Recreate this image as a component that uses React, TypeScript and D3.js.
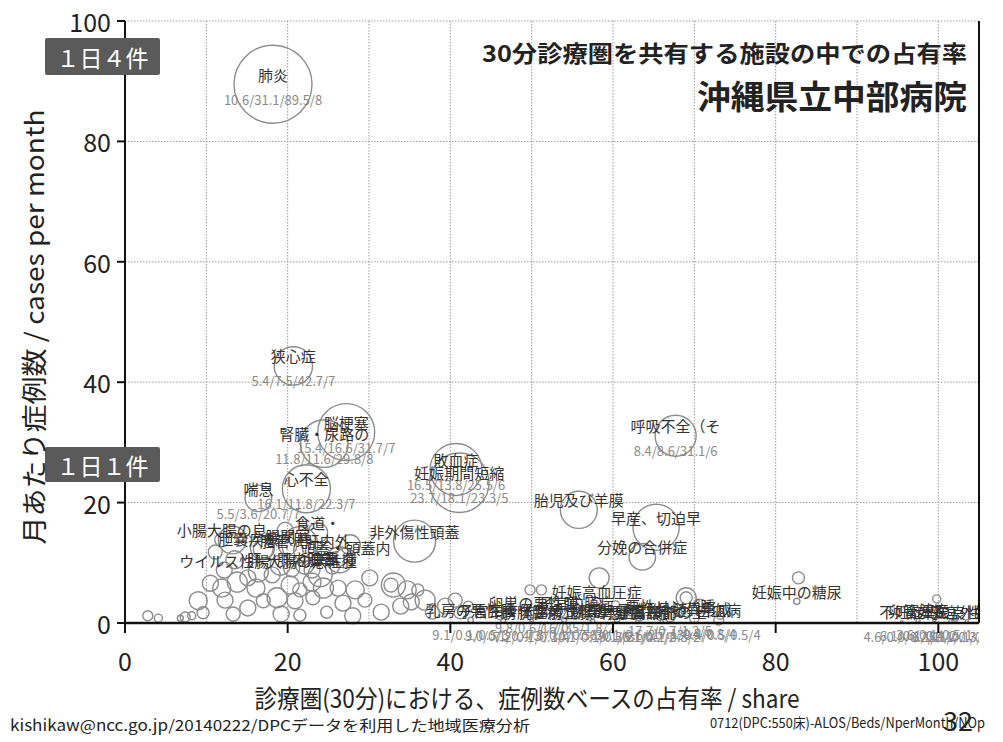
import React from 'react';
import * as d3 from 'd3';

// ---------- data ----------
const xTicks = [0, 20, 40, 60, 80, 100];
const yTicks = [0, 20, 40, 60, 80, 100];
const xGrid = [10, 20, 30, 40, 50, 60, 70, 80, 90, 100];
const yGrid = [20, 40, 60, 80, 100];

// labelled bubbles: share (%), cases per month, beds, ALOS (null = numbers hidden), NOp
const labelNames = [
  '肺炎', '狭心症', '脳梗塞', '腎臓・尿路の', '心不全', '喘息', '敗血症', '妊娠期間短縮', '呼吸不全（そ',
  '胎児及び羊膜', '早産、切迫早', '分娩の合併症', '非外傷性頭蓋', '妊娠中の糖尿', '妊娠高血圧症',
  '小腸大腸の良', '食道・', '胆嚢疾患（胆', '腸閉塞', '胆管（肝内外', '頭蓋・頭蓋内', 'ウイルス性腸',
  '肝・肝内胆管', '大腸の悪性腫', '虫垂炎',
  '乳房の悪性腫', '子宮頸・体部', '膀胱腫瘍', '卵巣の悪性腫', '子宮内膜症', '子宮の良性腫', '前立腺の悪性',
  '卵巣・子宮附', '骨盤臓器脱', '悪性リンパ腫', '骨髄異形成', '白血病', '子宮頸部の上',
  '不妊症', '卵管妊娠', '流産', '卵巣の良性腫', '子宮外妊娠',
];
const labelShare = [
  18.2, 20.7, 27.2, 24.5, 22.3, 16.4, 40.7, 41.1, 67.7,
  55.8, 65.3, 63.6, 35.6, 82.6, 58.0,
  11.9, 23.7, 17.0, 20.0, 22.1, 27.1, 12.2,
  20.5, 23.0, 25.5,
  42.5, 46.5, 50.0, 50.2, 55.5, 54.0, 57.5,
  60.5, 63.0, 67.0, 70.0, 73.0, 66.0,
  95.5, 97.5, 99.5, 101.5, 103.5,
];
const labelCases = [
  89.5, 42.7, 31.7, 29.8, 22.3, 20.7, 25.5, 23.3, 31.1,
  18.8, 15.9, 11.0, 13.6, 3.6, 3.5,
  13.8, 15.0, 12.3, 12.8, 12.1, 10.8, 8.8,
  9.0, 8.8, 9.3,
  0.5, 0.4, 0.3, 1.7, 1.8, 0.5, 0.3,
  0.6, 0.2, 1.2, 0.8, 0.5, 0.3,
  0.2, 0.4, 0.5, 0.3, 0.3,
];
const labelBeds = [
  31.1, 7.5, 16.6, 11.6, 11.8, 3.6, 13.8, 18.1, 8.6,
  7.0, 10.9, 3.6, 9.0, 0.2, 0.3,
  1.0, 2.0, 2.0, 1.7, 2.5, 2.0, 1.3,
  1.3, 1.3, 1.0,
  0.15, 0.12, 0.07, 0.55, 0.45, 0.12, 0.1,
  0.15, 0.06, 0.7, 0.45, 0.5, 0.05,
  0.03, 0.08, 0.06, 0.06, 0.05,
];
const labelAlos: (number | null)[] = [
  10.6, 5.4, 15.4, 11.8, 16.1, 5.5, 16.5, 23.7, 8.4,
  null, null, null, null, null, null,
  null, null, null, null, null, null, null,
  null, null, null,
  9.1, 9.0, 7.2, 9.8, 7.6, 7.3, 10.1,
  7.6, 9.1, 17.7, 17.1, 30.4, 5.1,
  4.6, 6.1, 3.6, 6.1, 5.1,
];
const labelNop = [
  8, 7, 7, 8, 7, 7, 6, 5, 6,
  0, 0, 0, 0, 0, 0,
  0, 0, 0, 0, 0, 0, 0,
  0, 0, 0,
  3, 3, 4, 3, 2, 3, 3,
  2, 2, 5, 4, 4, 2,
  1, 2, 1, 2, 2,
];

// unlabelled bubbles
const cloudShare = [
  2.8, 4.1, 6.8, 7.4, 8.2, 9.0, 9.6, 10.5, 11.9, 12.3, 13.8, 13.3, 15.1, 16.1, 17.0, 18.1, 18.7, 19.2,
  20.9, 21.5, 23.0, 23.1, 24.4, 24.8, 26.2, 26.8, 28.0, 29.5, 30.1, 31.5, 33.0, 32.7, 33.9, 35.2, 36.9,
  37.8, 36.0, 39.4, 40.6, 41.2, 42.2, 43.7, 46.1, 47.4, 34.7,
  13.2, 16.9, 21.5, 26.4, 16.4, 19.1, 24.0, 22.1, 13.5, 15.1, 27.7, 19.7, 11.1, 20.3, 28.3, 21.5,
  49.8, 51.2, 58.3, 62.1, 69.0, 69.0, 70.7, 68.3, 60.3, 63.3, 65.8, 73.2, 82.8, 99.8, 53.5, 55.4,
  57.2, 59.0, 100.2, 102.1,
];
const cloudCases = [
  1.2, 0.8, 0.8, 1.0, 1.2, 3.7, 1.7, 6.6, 5.8, 3.8, 6.8, 1.5, 2.5, 5.8, 3.7, 8.0, 4.2, 1.5,
  3.7, 1.3, 6.8, 4.2, 5.8, 1.8, 5.8, 3.3, 1.2, 3.8, 7.5, 1.8, 6.3, 6.3, 2.8, 3.5, 3.8,
  1.8, 5.5, 2.8, 3.8, 1.7, 2.8, 1.7, 1.2, 2.2, 5.5,
  13.8, 12.5, 13.0, 10.5, 8.5, 9.6, 8.0, 9.6, 10.5, 7.5, 13.0, 15.4, 11.8, 6.3, 5.5, 5.5,
  5.5, 5.5, 7.5, 1.7, 4.2, 4.2, 2.8, 1.8, 3.0, 1.0, 1.3, 1.3, 7.5, 4.0, 1.8, 1.3,
  1.3, 1.8, 1.3, 0.8,
];
const cloudBeds = [
  0.51, 0.33, 0.18, 0.51, 0.33, 1.66, 0.74, 1.31, 1.66, 1.31, 2.05, 1.0, 1.31, 1.66, 1.0, 1.31, 2.05, 1.31,
  1.31, 0.74, 1.66, 1.0, 2.05, 0.74, 1.31, 1.31, 1.31, 1.0, 1.31, 1.31, 2.95, 1.0, 1.31, 1.31, 2.05,
  1.0, 0.74, 1.31, 1.0, 0.74, 0.51, 0.51, 0.33, 0.51, 1.66,
  4.0, 2.95, 6.6, 3.46, 2.05, 2.05, 2.95, 1.66, 1.66, 1.31, 2.05, 1.31, 1.0, 1.66, 1.66, 1.0,
  0.51, 0.51, 2.05, 0.18, 2.05, 0.74, 1.0, 0.51, 0.33, 0.33, 0.51, 0.33, 0.74, 0.33, 0.51, 0.33,
  0.51, 0.33, 0.18, 0.18,
];

const titleLine1 = '30分診療圏を共有する施設の中での占有率';
const titleLine2 = '沖縄県立中部病院';
const xLabel = '診療圏(30分)における、症例数ベースの占有率 / share';
const yLabel = '月あたり症例数 / cases per month';
const footLeft = 'kishikaw@ncc.go.jp/20140222/DPCデータを利用した地域医療分析';
const footRight = '0712(DPC:550床)-ALOS/Beds/NperMonth/NOp';
const pageNo = '32';
const badges = ['１日４件', '１日１件'];

// ---------- chart ----------
const W = 1003;
const H = 742;
const FONT = '"Noto Sans CJK JP", "Noto Sans", sans-serif';

export default function App() {
  const x = d3.scaleLinear().domain([0, 105]).range([125, 979]);
  const y = d3.scaleLinear().domain([0, 100]).range([623, 21]);
  const r = d3.scaleSqrt().domain([0, 31.1]).range([0, 39]);

  const cloud = cloudShare.map((s, i) => ({ s, c: cloudCases[i], b: cloudBeds[i] }));
  const labelled = labelNames.map((n, i) => ({
    n, s: labelShare[i], c: labelCases[i], b: labelBeds[i], a: labelAlos[i], p: labelNop[i],
  }));

  const plotL = x(0), plotR = x(105), plotT = y(100), plotB = y(0);

  return (
    <svg width={W} height={H} style={{ position: 'absolute', left: 0, top: 0, background: '#fff' }} fontFamily={FONT}>
      <defs>
        <clipPath id="plotclip">
          <rect x={plotL} y={0} width={plotR - plotL} height={H} />
        </clipPath>
      </defs>
      <rect width={W} height={H} fill="#fff" />
      {/* grid */}
      {xGrid.map((g) => (
        <line key={'gx' + g} x1={x(g)} x2={x(g)} y1={plotT} y2={plotB} stroke="#9a9a9a" strokeWidth={1} strokeDasharray="1.5,1.5" />
      ))}
      {yGrid.map((g) => (
        <line key={'gy' + g} x1={plotL} x2={plotR} y1={y(g)} y2={y(g)} stroke="#9a9a9a" strokeWidth={1} strokeDasharray="1.5,1.5" />
      ))}

      {/* bubbles */}
      <g clipPath="url(#plotclip)">
        {cloud.map((d, i) => (
          <circle key={'c' + i} cx={x(d.s)} cy={y(d.c)} r={r(d.b)} fill="none" stroke="#8c8c8c" strokeWidth={1.4} />
        ))}
        {labelled.map((d, i) => (
          <circle key={'l' + i} cx={x(d.s)} cy={y(d.c)} r={r(d.b)} fill="none" stroke="#8c8c8c" strokeWidth={1.4} />
        ))}
        {labelled.map((d, i) => (
          <g key={'t' + i}>
            <text x={x(d.s)} y={y(d.c) - 10} textAnchor="middle" dominantBaseline="central" fontSize={15} fill="#333">
              {d.n}
            </text>
            {d.a !== null && (
              <text x={x(d.s)} y={y(d.c) + 15} textAnchor="middle" dominantBaseline="central" fontSize={13} fill="#8a8a8a">
                {`${(d.a as number).toFixed(1)}/${d.b.toFixed(1)}/${d.c.toFixed(1)}/${d.p}`}
              </text>
            )}
          </g>
        ))}
      </g>

      {/* axes */}
      <line x1={plotL} x2={plotL} y1={plotT} y2={plotB} stroke="#111" strokeWidth={2} />
      <line x1={plotR} x2={plotR} y1={plotT} y2={plotB} stroke="#111" strokeWidth={2} />
      <line x1={plotL} x2={plotR} y1={plotB} y2={plotB} stroke="#111" strokeWidth={2.5} />
      {yTicks.map((t) => (
        <g key={'yt' + t}>
          <line x1={plotL - 8} x2={plotL} y1={y(t)} y2={y(t)} stroke="#111" strokeWidth={2} />
          <text x={plotL - 14} y={y(t)} textAnchor="end" dominantBaseline="central" fontSize={25} fill="#222">{t}</text>
        </g>
      ))}
      {xTicks.map((t) => (
        <g key={'xt' + t}>
          <line x1={x(t)} x2={x(t)} y1={plotB} y2={plotB + 10} stroke="#111" strokeWidth={2} />
          <text x={x(t)} y={plotB + 37} textAnchor="middle" dominantBaseline="central" fontSize={25} fill="#222">{t}</text>
        </g>
      ))}

      {/* badges */}
      <rect x={45} y={38} width={115} height={37} rx={2} fill="#5a5a5a" />
      <text x={102.5} y={57} textAnchor="middle" dominantBaseline="central" fontSize={23} fill="#fff">{badges[0]}</text>
      <rect x={45} y={447} width={115} height={35} rx={2} fill="#5a5a5a" />
      <text x={102.5} y={465} textAnchor="middle" dominantBaseline="central" fontSize={23} fill="#fff">{badges[1]}</text>

      {/* titles */}
      <text x={967} y={52} textAnchor="end" dominantBaseline="central" fontSize={23} fontWeight="bold" fill="#222"
        textLength={485} lengthAdjust="spacingAndGlyphs">{titleLine1}</text>
      <text x={967} y={95} textAnchor="end" dominantBaseline="central" fontSize={33} fontWeight="bold" fill="#222"
        textLength={270} lengthAdjust="spacingAndGlyphs">{titleLine2}</text>

      {/* axis labels */}
      <text x={527} y={697} textAnchor="middle" dominantBaseline="central" fontSize={25} fill="#222"
        textLength={545} lengthAdjust="spacingAndGlyphs">{xLabel}</text>
      <text transform={`translate(32,327) rotate(-90)`} textAnchor="middle" dominantBaseline="central" fontSize={26} fill="#222"
        textLength={435} lengthAdjust="spacingAndGlyphs">{yLabel}</text>

      {/* footer */}
      <text x={10} y={724} dominantBaseline="central" fontSize={15} fill="#222" textLength={520} lengthAdjust="spacingAndGlyphs">{footLeft}</text>
      <text x={710} y={722} dominantBaseline="central" fontSize={14} fill="#222" textLength={275} lengthAdjust="spacingAndGlyphs">{footRight}</text>
      <text x={958} y={719} textAnchor="middle" dominantBaseline="central" fontSize={27} fill="#222">{pageNo}</text>
    </svg>
  );
}
